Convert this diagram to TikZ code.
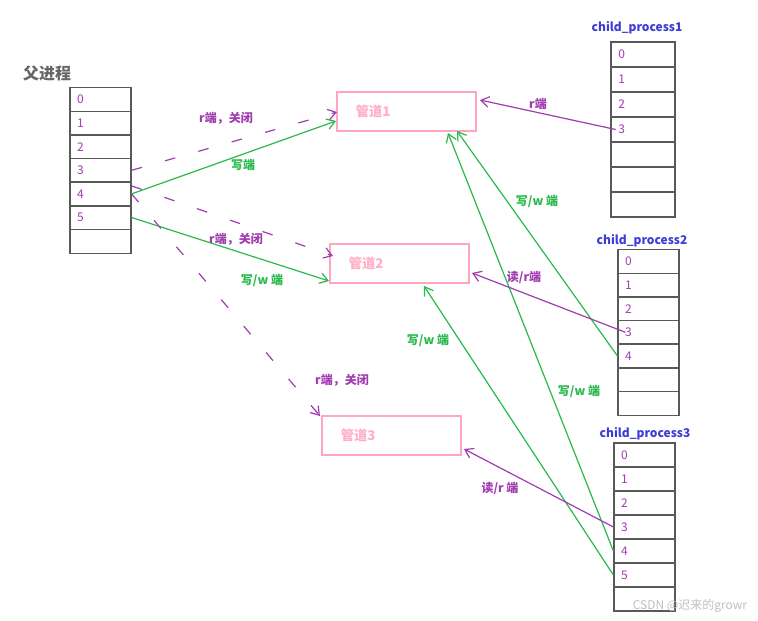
\documentclass[tikz,border=0pt]{standalone}
\usepackage{fontspec}
\setmainfont{Noto Sans CJK SC}
\usetikzlibrary{arrows.meta}
\definecolor{pur}{RGB}{160,60,175}
\definecolor{grn}{RGB}{40,185,75}
\definecolor{pnk}{RGB}{255,165,190}
\definecolor{blu}{RGB}{60,60,215}
\begin{document}
\begin{tikzpicture}[x=0.75pt,y=-0.75pt,
  cell/.style={draw=black!65,line width=0.9pt,minimum width=61*0.75pt,minimum height=24*0.75pt,inner sep=0pt,font=\small,text=pur},
  pipe/.style={draw=pnk,line width=0.9pt,minimum width=139*0.75pt,minimum height=39*0.75pt,inner sep=0pt,font=\normalsize\bfseries,text=pnk!90},
  tit/.style={font=\small\bfseries,text=blu},
  g/.style={draw=grn,line width=0.9pt,-{Straight Barb[length=6pt,width=8pt]}},
  p/.style={draw=pur,line width=0.9pt,-{Straight Barb[length=6pt,width=8pt]}},
  pd/.style={p,dash pattern=on 8pt off 18pt},
  gl/.style={font=\small\bfseries,text=grn},
  pl/.style={font=\small\bfseries,text=pur}]
\useasboundingbox (0,0) rectangle (758,621);
% parent
\node[font=\large\bfseries,text=black!60] (pt) at (47,73) {父进程};
\foreach \i/\t in {0/0,1/1,2/2,3/3,4/4,5/5,6/{}}{
  \node[cell] (p\i) at (100.5,{99.5+23.6*\i}) {\hspace*{-30pt}\t};}
% child1
\node[tit] (t1) at (637,28) {child\_process1};
\foreach \i/\t in {0/0,1/1,2/2,3/3,4/{},5/{},6/{}}{
  \node[cell,minimum width=64*0.75pt,minimum height=25*0.75pt] (a\i) at (643,{54.5+25*\i}) {\hspace*{-32pt}\t};}
% child2
\node[tit] (t2) at (642,241) {child\_process2};
\foreach \i/\t in {0/0,1/1,2/2,3/3,4/4,5/{},6/{}}{
  \node[cell] (b\i) at (648.5,{261.5+23.6*\i}) {\hspace*{-30pt}\t};}
% child3
\node[tit] (t3) at (645,434) {child\_process3};
\foreach \i/\t in {0/0,1/1,2/2,3/3,4/4,5/5,6/{}}{
  \node[cell] (c\i) at (644.5,{455+24*\i}) {\hspace*{-30pt}\t};}
% pipes
\node[pipe] (q1) at (406.5,111.5) {\hspace*{-50pt}管道1};
\node[pipe] (q2) at (399.5,263.5) {\hspace*{-50pt}管道2};
\node[pipe] (q3) at (391.5,435.5) {\hspace*{-50pt}管道3};
% coordinates
\coordinate (q1w) at (336,121);
\coordinate (q1wd) at (337,112);
\coordinate (q2w) at (329,281);
\coordinate (q2wd) at (333,256);
\coordinate (q3n) at (320,416);
\coordinate (q1e) at (480,100);
\coordinate (q1b1) at (457,131);
\coordinate (q1b2) at (448,133);
\coordinate (q2e) at (472,273);
\coordinate (q2b) at (424,286);
\coordinate (q3e) at (464,449);
% parent arrows
\draw[g] (p4.east) -- (q1w);
\draw[g] (p5.east) -- (q2w);
\draw[pd] (p3.east) -- (q1wd);
\draw[pd] ([yshift=6pt]p4.east) -- (q2wd);
\draw[pd] (p4.east) -- (q3n);
\node[pl] (l1) at (226,118) {r端，关闭};
\node[gl] (l2) at (243,165) {写端};
\node[pl] (l3) at (236,239) {r端，关闭};
\node[gl] (l4) at (262,280) {写/w 端};
\node[pl] (l5) at (342,380) {r端，关闭};
% child arrows
\draw[p] ([xshift=4pt]a3.west) -- (q1e);
\node[pl] (l6) at (538,104) {r端};
\draw[g] (b4.west) -- (q1b1);
\node[gl] (l7) at (537,201) {写/w 端};
\draw[g] (c4.west) -- (q1b2);
\node[gl] (l8) at (579,391) {写/w 端};
\draw[p] ([xshift=6pt]b3.west) -- (q2e);
\node[pl] (l9) at (524,277) {读/r端};
\draw[g] (c5.west) -- (q2b);
\node[gl] (l10) at (428,340) {写/w 端};
\draw[p] (c3.west) -- (q3e);
\node[pl] (l11) at (500,488) {读/r 端};
\node[font=\small,text=black!25] (wm) at (690,606) {CSDN @迟来的growr};
\end{tikzpicture}
\end{document}
